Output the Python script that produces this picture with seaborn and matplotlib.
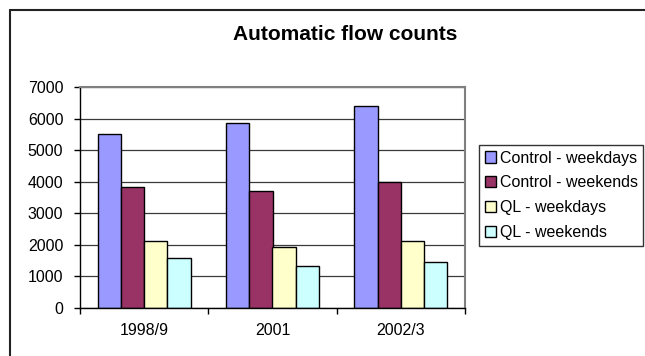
import matplotlib
matplotlib.use("Agg")
import matplotlib.pyplot as plt
from matplotlib.lines import Line2D
import seaborn as sns
import pandas as pd

periods = ["1998/9", "2001", "2002/3"]
series = ["Control - weekdays", "Control - weekends", "QL - weekdays", "QL - weekends"]
control_weekdays = [5500, 5860, 6400]
control_weekends = [3840, 3710, 3990]
ql_weekdays = [2130, 1930, 2120]
ql_weekends = [1570, 1340, 1450]
colors = ["#9999FF", "#993366", "#FFFFCC", "#CCFFFF"]

rows = []
for name, vals in zip(series, [control_weekdays, control_weekends, ql_weekdays, ql_weekends]):
    for p, v in zip(periods, vals):
        rows.append({"period": p, "series": name, "count": v})
df = pd.DataFrame(rows)

sns.set_theme(style="white")
plt.rcParams["font.family"] = ["Liberation Sans", "DejaVu Sans"]
plt.rcParams["text.color"] = "black"
plt.rcParams["axes.labelcolor"] = "black"

fig = plt.figure(figsize=(6.45, 3.56), dpi=100)
ax = fig.add_axes([80 / 645, 1 - 308 / 356, (465 - 80) / 645, (308 - 87) / 356])

sns.barplot(data=df, x="period", y="count", hue="series", order=periods,
            hue_order=series, palette=colors, width=0.726, gap=0,
            edgecolor="black", linewidth=1.0, saturation=1, ax=ax)

ax.set_ylim(0, 7000)
ax.set_xlim(-0.5, 2.5)
ax.set_yticks(range(0, 7001, 1000))
ax.yaxis.grid(True, color="#3a3a3a", linewidth=0.9)
ax.set_axisbelow(True)
ax.set_xlabel("")
ax.set_ylabel("")

ax.set_xticks([-0.5, 0.5, 1.5, 2.5], minor=True)
ax.tick_params(axis="x", which="major", length=0, pad=11, labelsize=11.5, colors="black")
ax.tick_params(axis="x", which="minor", length=4, width=1, color="black", direction="out", bottom=True)
ax.tick_params(axis="y", length=4, width=1, color="black", direction="out", left=True,
               labelsize=11.5, colors="black", pad=8)

for side in ["left", "bottom"]:
    ax.spines[side].set_color("black")
    ax.spines[side].set_linewidth(1)
for side in ["top", "right"]:
    ax.spines[side].set_visible(True)
    ax.spines[side].set_color("#808080")
    ax.spines[side].set_linewidth(1.5)

fig.text(345 / 645, 1 - 35 / 356, "Automatic flow counts", ha="center", va="center",
         fontsize=15, fontweight="bold", color="black")

leg = ax.legend(loc="upper left", bbox_to_anchor=(479 / 645, 1 - 145 / 356),
                bbox_transform=fig.transFigure, frameon=True, fancybox=False,
                fontsize=11.5, handlelength=0.7, handleheight=0.7, handletextpad=0.25,
                labelspacing=0.62, borderpad=0.35, borderaxespad=0)
leg.get_frame().set_edgecolor("black")
leg.get_frame().set_linewidth(1)
for h in leg.legend_handles:
    h.set_edgecolor("black")
    h.set_linewidth(1)

# chart-area frame, open towards the right and bottom edges
fig.add_artist(Line2D([9.5 / 645, 9.5 / 645], [0, 1 - 10 / 356], transform=fig.transFigure,
                      color="#222222", linewidth=1.5))
fig.add_artist(Line2D([9.5 / 645, 1], [1 - 10 / 356, 1 - 10 / 356], transform=fig.transFigure,
                      color="#222222", linewidth=1.5))

fig.savefig("out.png", dpi=100)
